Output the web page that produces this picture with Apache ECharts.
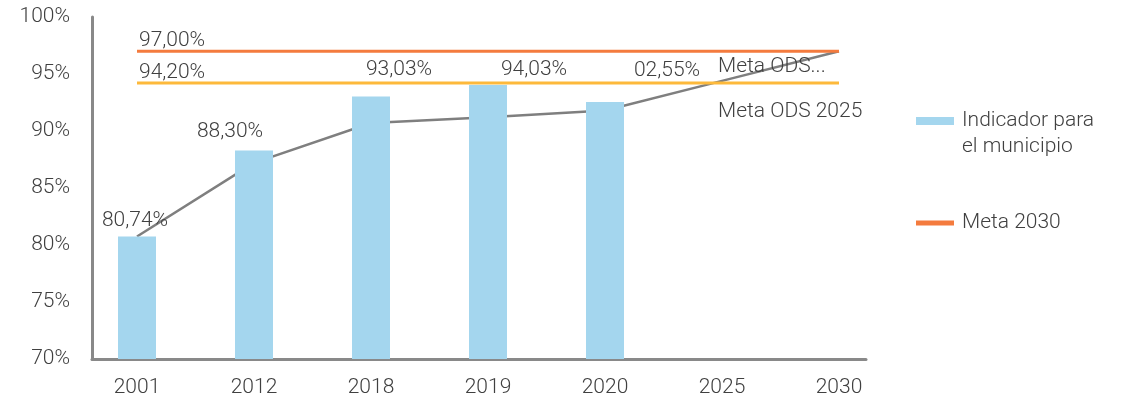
<!DOCTYPE html>
<html>
<head>
<meta charset="utf-8">
<script src="https://cdn.jsdelivr.net/npm/echarts@6/dist/echarts.min.js"></script>
<style>
  html, body { margin: 0; padding: 0; background: #fff; }
  #chart { width: 1121px; height: 401px; }
</style>
</head>
<body>
<div id="chart"></div>
<script>
// data
const years = ['2001', '2012', '2018', '2019', '2020', '2025', '2030']
const indicador = [80.74, 88.30, 93.03, 94.03, 92.55, null, null]
const indicadorLabels = ['80,74%', '88,30%', '93,03%', '94,03%', '02,55%']
const tendencia = [80.74, 87.2, 90.7, 91.2, 91.8, 94.4, 97.0]
const meta2030 = [97, 97, 97, 97, 97, 97, 97]
const meta2030Labels = ['97,00%', '', '', '', '', 'Meta ODS...', '']
const meta2025 = [94.2, 94.2, 94.2, 94.2, 94.2, 94.2, 94.2]
const meta2025Labels = ['94,20%', '', '', '', '', 'Meta ODS 2025', '']

// label nudges (styling only)
const barLabelShift = [[-2, 0], [-24, -3], [28, -11], [46, 0], [62, -16]]

const FONT = 'Roboto'
const TEXT = '#404040'
const AXIS = '#898989'

const chart = echarts.init(document.getElementById('chart'))

function lineLabels(texts, endDistance) {
  return function (v, i) {
    if (i === 0) {
      return { value: v, label: { show: true, position: 'top', align: 'left', distance: 0, offset: [2, 0], formatter: texts[i] } }
    }
    if (texts[i]) {
      return { value: v, label: { show: true, position: 'bottom', align: 'left', distance: endDistance, offset: [-4, 0], formatter: texts[i] } }
    }
    return { value: v }
  }
}

const labelText = { fontFamily: FONT, fontSize: 21, fontWeight: 300, color: TEXT }

const option = {
  animation: false,
  textStyle: { fontFamily: FONT },
  grid: [
    { left: 78.5, right: 223.5, top: 17, bottom: 42 },
    { left: 92, right: 255, top: 17, bottom: 42 }
  ],
  xAxis: [
    {
      type: 'category',
      gridIndex: 0,
      data: years,
      axisLine: { show: false },
      axisTick: { show: false },
      axisLabel: { margin: 18, ...labelText }
    },
    {
      type: 'value',
      gridIndex: 1,
      min: 0,
      max: 1,
      axisLine: { show: true, lineStyle: { color: AXIS, width: 3 } },
      axisTick: { show: false },
      axisLabel: { show: false },
      splitLine: { show: false }
    }
  ],
  yAxis: [
    { type: 'value', gridIndex: 0, min: 70, max: 100, show: false },
    {
      type: 'value',
      gridIndex: 1,
      min: 70,
      max: 100,
      interval: 5,
      axisLine: { show: true, lineStyle: { color: AXIS, width: 3 } },
      axisTick: { show: false },
      splitLine: { show: false },
      axisLabel: { margin: 22, formatter: '{value}%', ...labelText }
    }
  ],
  legend: {
    orient: 'vertical',
    left: 916,
    top: 82,
    padding: 0,
    itemWidth: 38,
    itemHeight: 8,
    itemGap: 50,
    symbolKeepAspect: true,
    // blank first line keeps the icon level with the first text line
    formatter: name => name.indexOf('\n') >= 0 ? '\n' + name : name,
    textStyle: { ...labelText, lineHeight: 26, padding: [0, 0, 0, 3] },
    data: [
      { name: 'Indicador para\nel municipio', icon: 'rect' },
      { name: 'Meta 2030', icon: 'path://M0,0L38,0L38,5L0,5Z' }
    ]
  },
  series: [
    {
      name: 'Tendencia',
      type: 'line',
      data: tendencia,
      symbol: 'none',
      z: 1,
      lineStyle: { color: '#7f7f7f', width: 2.5 }
    },
    {
      name: 'Indicador para\nel municipio',
      type: 'bar',
      data: indicador.map((v, i) => v == null ? null : { value: v, label: { offset: barLabelShift[i] } }),
      barWidth: 38,
      z: 2,
      itemStyle: { color: '#a4d6ee' },
      label: {
        show: true,
        position: 'top',
        distance: 5,
        formatter: p => indicadorLabels[p.dataIndex],
        ...labelText
      }
    },
    {
      name: 'Meta 2030',
      type: 'line',
      data: meta2030.map(lineLabels(meta2030Labels, 5)),
      symbol: 'circle',
      symbolSize: 0.01,
      showSymbol: true,
      z: 3,
      lineStyle: { color: '#f47b3e', width: 3 },
      itemStyle: { color: '#f47b3e' },
      label: { ...labelText }
    },
    {
      name: 'Meta ODS 2025',
      type: 'line',
      data: meta2025.map(lineLabels(meta2025Labels, 18)),
      symbol: 'circle',
      symbolSize: 0.01,
      showSymbol: true,
      z: 3,
      lineStyle: { color: '#fdb93b', width: 3 },
      itemStyle: { color: '#fdb93b' },
      label: { ...labelText }
    }
  ]
}

chart.setOption(option)
</script>
</body>
</html>
